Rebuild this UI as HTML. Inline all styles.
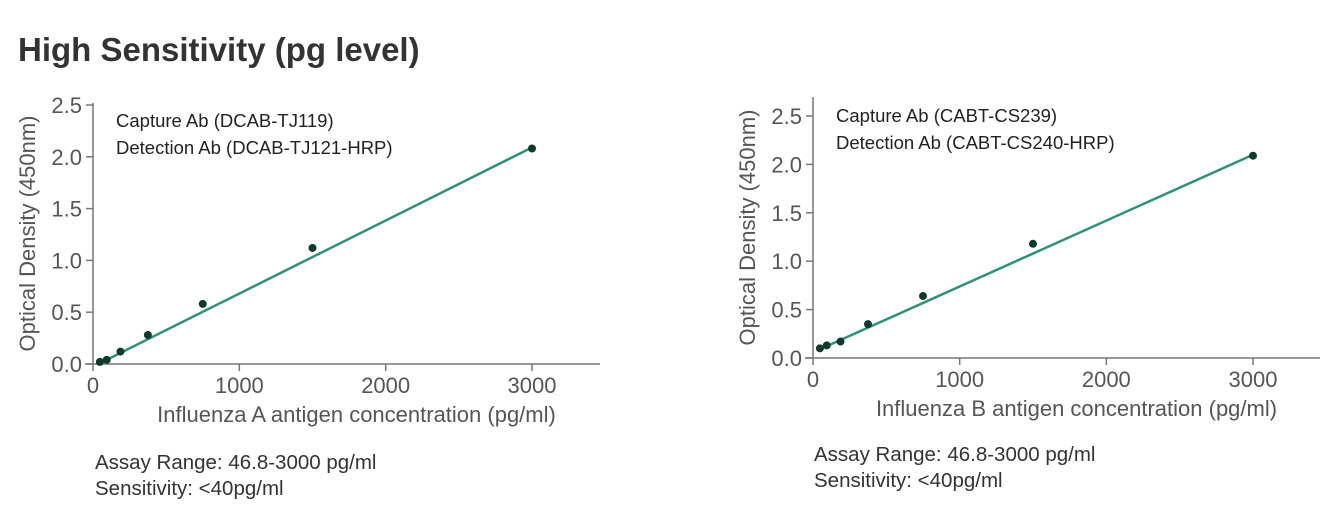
<!DOCTYPE html>
<html><head><meta charset="utf-8"><style>
html,body{margin:0;padding:0;background:#fff;}
svg{display:block;font-family:"Liberation Sans",sans-serif;}
.tick{font-size:22px;fill:#555;}
.at{font-size:22px;fill:#555;}
.ann{font-size:18.5px;fill:#222;}
.foot{font-size:20.5px;fill:#333;}
</style></head><body>
<svg id="svg" width="1336" height="522" viewBox="0 0 1336 522">
<text x="18" y="61" font-size="33" font-weight="bold" fill="#333">High Sensitivity (pg level)</text>
<g id="cA"></g>
<g id="cB"></g>
<text class="foot" x="95" y="469">Assay Range: 46.8-3000 pg/ml</text>
<text class="foot" x="95" y="495">Sensitivity: &lt;40pg/ml</text>
<text class="foot" x="814" y="461">Assay Range: 46.8-3000 pg/ml</text>
<text class="foot" x="814" y="487">Sensitivity: &lt;40pg/ml</text>
</svg>
<script>
const concA = [46.8, 93.75, 187.5, 375, 750, 1500, 3000];
const odA = [0.02, 0.04, 0.12, 0.28, 0.58, 1.12, 2.08];
const fitA = [[50, 0.01], [3000, 2.09]];
const concB = [46.8, 93.75, 187.5, 375, 750, 1500, 3000];
const odB = [0.10, 0.13, 0.17, 0.35, 0.64, 1.18, 2.09];
const fitB = [[46.8, 0.09], [3000, 2.10]];
const xTicks = [0, 1000, 2000, 3000];
const yTicks = ["0.0", "0.5", "1.0", "1.5", "2.0", "2.5"];
const NS = "http://www.w3.org/2000/svg";
function mk(p, tag, at, txt){const e=document.createElementNS(NS,tag);for(const k in at)e.setAttribute(k,at[k]);if(txt!==undefined)e.textContent=txt;p.appendChild(e);return e;}
function chart(g, cfg, xs, ys, fit){
  const sx=v=>cfg.x0+(v/3000)*(cfg.x3-cfg.x0);
  const sy=v=>cfg.y0-(v/2.5)*(cfg.y0-cfg.y25);
  let e=mk(g,'line',{x1:cfg.x0,y1:cfg.top,x2:cfg.x0,y2:cfg.y0,stroke:'#777','stroke-width':1.5});
  
  e=mk(g,'line',{x1:cfg.x0-8,y1:cfg.y0,x2:cfg.xend,y2:cfg.y0,stroke:'#777','stroke-width':1.5});
  
  xTicks.forEach(t=>{
    mk(g,'line',{x1:sx(t),y1:cfg.y0,x2:sx(t),y2:cfg.y0+7,stroke:'#777','stroke-width':1.5});
    e=mk(g,'text',{x:sx(t),y:cfg.y0+29,'text-anchor':'middle',class:'tick'},String(t));
    
  });
  yTicks.forEach(t=>{
    const y=sy(parseFloat(t));
    mk(g,'line',{x1:cfg.x0-7,y1:y,x2:cfg.x0,y2:y,stroke:'#777','stroke-width':1.5});
    e=mk(g,'text',{x:cfg.x0-11,y:y+8,'text-anchor':'end',class:'tick'},t);
    
  });
  e=mk(g,'line',{x1:sx(fit[0][0]),y1:sy(fit[0][1]),x2:sx(fit[1][0]),y2:sy(fit[1][1]),stroke:'#2e9278','stroke-width':2.5});
  
  xs.forEach((x,i)=>{
    e=mk(g,'circle',{cx:sx(x),cy:sy(ys[i]),r:4,fill:'#0e3b2e'});
    
  });
  const yc=(cfg.top+cfg.y0)/2;
  e=mk(g,'text',{x:cfg.x0-58,y:yc,transform:`rotate(-90 ${cfg.x0-58} ${yc})`,'text-anchor':'middle',class:'at'},'Optical Density (450nm)');
  
  e=mk(g,'text',{x:(cfg.x0+cfg.xend)/2+10,y:cfg.y0+58,'text-anchor':'middle',class:'at'},cfg.xtitle);
  
  e=mk(g,'text',{x:cfg.x0+23,y:cfg.annY,class:'ann'},cfg.a1);
  
  e=mk(g,'text',{x:cfg.x0+23,y:cfg.annY+27,class:'ann'},cfg.a2);
  
}
chart(document.getElementById('cA'),{x0:93,x3:532,xend:600,y0:364,y25:105,top:103,xtitle:'Influenza A antigen concentration (pg/ml)',a1:'Capture Ab (DCAB-TJ119)',a2:'Detection Ab (DCAB-TJ121-HRP)',annY:127},concA,odA,fitA);
chart(document.getElementById('cB'),{x0:813,x3:1253,xend:1320,y0:358,y25:116,top:97,xtitle:'Influenza B antigen concentration (pg/ml)',a1:'Capture Ab (CABT-CS239)',a2:'Detection Ab (CABT-CS240-HRP)',annY:122},concB,odB,fitB);
</script>
</body></html>
